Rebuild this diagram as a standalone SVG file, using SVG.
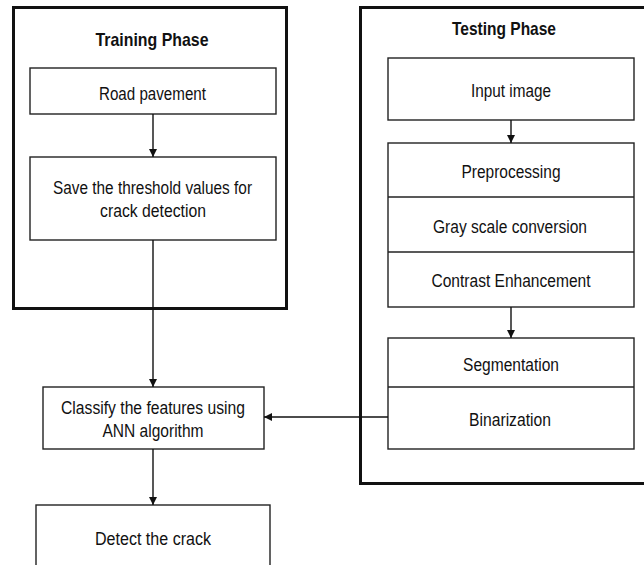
<svg xmlns="http://www.w3.org/2000/svg" width="644" height="565" viewBox="0 0 644 565">
<defs>
<style>
.outer{fill:none;stroke:#111;stroke-width:3}
.box{fill:#fff;stroke:#222;stroke-width:1.4}
.div{stroke:#222;stroke-width:1.4}
.t{font-family:"Liberation Sans",Arial,sans-serif;font-size:17.5px;fill:#111;text-anchor:middle}
.h{font-family:"Liberation Sans",Arial,sans-serif;font-size:19px;font-weight:bold;fill:#111;text-anchor:middle}
.c{stroke:#111;stroke-width:1.4;fill:none;marker-end:url(#ah)}
</style>
<marker id="ah" viewBox="0 0 10 10" refX="10" refY="5" markerWidth="8" markerHeight="8" markerUnits="userSpaceOnUse" orient="auto">
<path d="M0,0 L10,5 L0,10 z" fill="#111"/>
</marker>
</defs>
<rect width="644" height="565" fill="#fff"/>
<g id="training-phase">
<rect class="outer" x="13.5" y="7.5" width="273" height="301"/>
<text class="h" x="152" y="46" textLength="113" lengthAdjust="spacingAndGlyphs">Training Phase</text>
</g>
<g id="testing-phase">
<rect class="outer" x="360.5" y="7.5" width="300" height="476"/>
<text class="h" x="504" y="35" textLength="104" lengthAdjust="spacingAndGlyphs">Testing Phase</text>
</g>
<g id="road-pavement">
<rect class="box" x="30" y="68" width="246" height="46"/>
<text class="t" x="152.5" y="100" textLength="107" lengthAdjust="spacingAndGlyphs">Road pavement</text>
</g>
<g id="save-threshold">
<rect class="box" x="30" y="157" width="246" height="83"/>
<text class="t" x="152.5" y="194" textLength="199" lengthAdjust="spacingAndGlyphs">Save the threshold values for</text>
<text class="t" x="153" y="217" textLength="106" lengthAdjust="spacingAndGlyphs">crack detection</text>
</g>
<g id="input-image">
<rect class="box" x="388" y="58" width="246" height="62"/>
<text class="t" x="511" y="97" textLength="80" lengthAdjust="spacingAndGlyphs">Input image</text>
</g>
<g id="preprocessing">
<rect class="box" x="388" y="143" width="246" height="164"/>
<line class="div" x1="388" y1="197" x2="634" y2="197"/>
<line class="div" x1="388" y1="252" x2="634" y2="252"/>
<text class="t" x="511" y="178" textLength="99" lengthAdjust="spacingAndGlyphs">Preprocessing</text>
<text class="t" x="510" y="233" textLength="154" lengthAdjust="spacingAndGlyphs">Gray scale conversion</text>
<text class="t" x="511" y="287" textLength="159" lengthAdjust="spacingAndGlyphs">Contrast Enhancement</text>
</g>
<g id="segmentation">
<rect class="box" x="388" y="338" width="246" height="111"/>
<line class="div" x1="388" y1="387" x2="634" y2="387"/>
<text class="t" x="511" y="371" textLength="96" lengthAdjust="spacingAndGlyphs">Segmentation</text>
<text class="t" x="510" y="426" textLength="82" lengthAdjust="spacingAndGlyphs">Binarization</text>
</g>
<g id="classify">
<rect class="box" x="43" y="387" width="221" height="62"/>
<text class="t" x="153" y="414" textLength="184" lengthAdjust="spacingAndGlyphs">Classify the features using</text>
<text class="t" x="153" y="437" textLength="101" lengthAdjust="spacingAndGlyphs">ANN algorithm</text>
</g>
<g id="detect">
<rect class="box" x="36" y="505" width="234" height="70"/>
<text class="t" x="153" y="545" textLength="116" lengthAdjust="spacingAndGlyphs">Detect the crack</text>
</g>
<g id="connectors">
<line class="c" x1="153" y1="114" x2="153" y2="157"/>
<line class="c" x1="153" y1="240" x2="153" y2="387"/>
<line class="c" x1="153" y1="449" x2="153" y2="505"/>
<line class="c" x1="511" y1="120" x2="511" y2="143"/>
<line class="c" x1="511" y1="307" x2="511" y2="338"/>
<line class="c" x1="388" y1="417" x2="264" y2="417"/>
</g>
</svg>
